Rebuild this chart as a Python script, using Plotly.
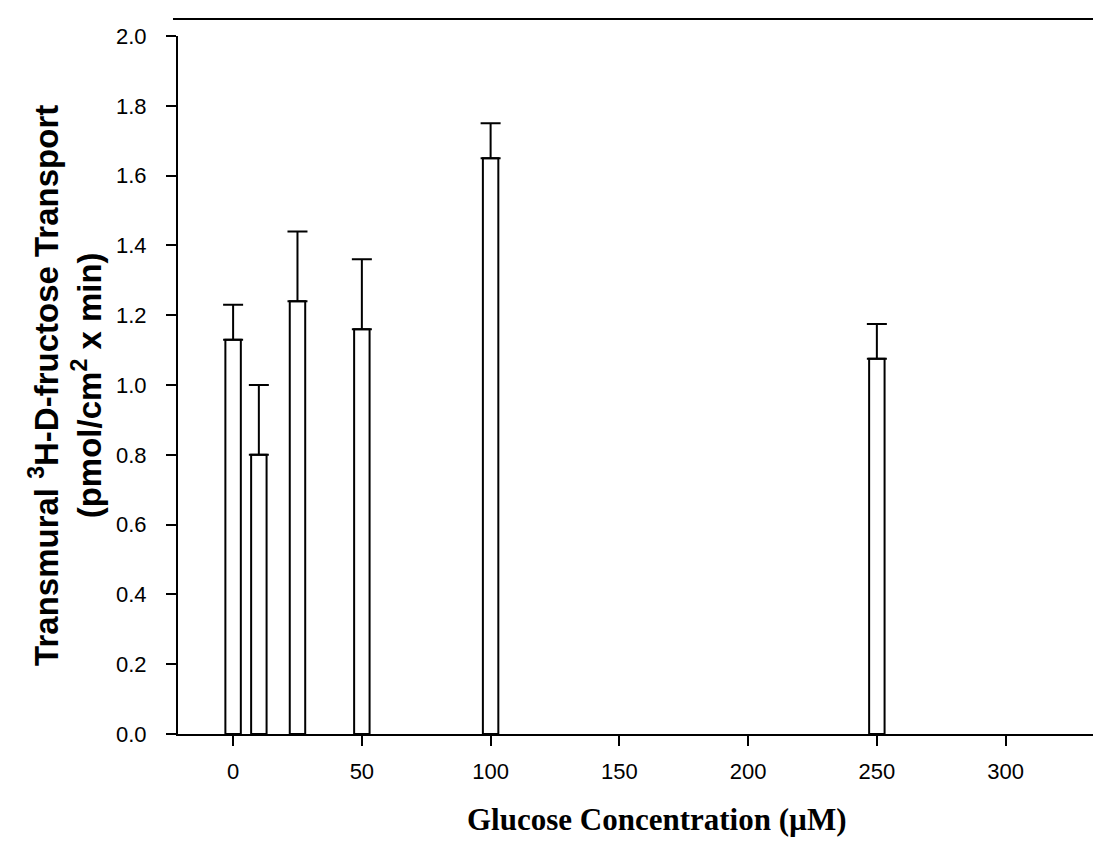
import plotly.graph_objects as go

# Data
glucose_uM = [0, 10, 25, 50, 100, 250]
fructose_transport = [1.13, 0.80, 1.24, 1.16, 1.65, 1.075]
sem_upper = [0.10, 0.20, 0.20, 0.20, 0.10, 0.10]

x_ticks = [0, 50, 100, 150, 200, 250, 300]
y_ticks = [0.0, 0.2, 0.4, 0.6, 0.8, 1.0, 1.2, 1.4, 1.6, 1.8, 2.0]

fig = go.Figure()
fig.add_trace(go.Bar(
    x=glucose_uM,
    y=fructose_transport,
    width=6,
    marker=dict(color="white", line=dict(color="black", width=2)),
    error_y=dict(type="data", symmetric=False, array=sem_upper,
                 arrayminus=[0] * len(sem_upper),
                 color="black", thickness=2, width=10),
    showlegend=False,
))

tick_font = dict(family="Liberation Sans, Arial, sans-serif", size=22, color="black")

fig.update_layout(
    width=1101, height=844,
    margin=dict(l=170, r=4, t=28, b=118),
    paper_bgcolor="white", plot_bgcolor="white",
    xaxis=dict(range=[-21.4, 338.6], tickvals=x_ticks, ticktext=[str(v) for v in x_ticks],
               showline=True, linecolor="black", linewidth=2,
               ticks="outside", ticklen=10, tickwidth=2, tickcolor="black",
               ticklabelstandoff=7,
               showgrid=False, zeroline=False, tickfont=tick_font),
    yaxis=dict(range=[0, 2.0], tickvals=y_ticks, ticktext=[f"{v:.1f}" for v in y_ticks],
               showline=True, linecolor="black", linewidth=2,
               ticks="outside", ticklen=10, tickwidth=2, tickcolor="black",
               ticklabelstandoff=15,
               showgrid=False, zeroline=False, tickfont=tick_font),
    annotations=[
        dict(text="<b>Transmural <sup>3</sup>H-D-fructose Transport<br>(pmol/cm<sup>2</sup> x min)</b>",
             xref="paper", yref="paper", x=-0.122, y=0.5, textangle=-90,
             xanchor="center", yanchor="middle", showarrow=False,
             font=dict(family="Liberation Sans, Arial, sans-serif", size=33, color="black")),
        dict(text="<b>Glucose Concentration (µM)</b>",
             xref="paper", yref="paper", x=0.516, y=-0.123,
             xanchor="center", yanchor="middle", showarrow=False,
             font=dict(family="Liberation Serif, Times New Roman, serif", size=31, color="black")),
    ],
    shapes=[dict(type="line", xref="paper", yref="paper", x0=-0.0054, x1=1.0043,
                 y0=1.0244, y1=1.0244, line=dict(color="black", width=2))],
)

fig.write_html("out.html")
